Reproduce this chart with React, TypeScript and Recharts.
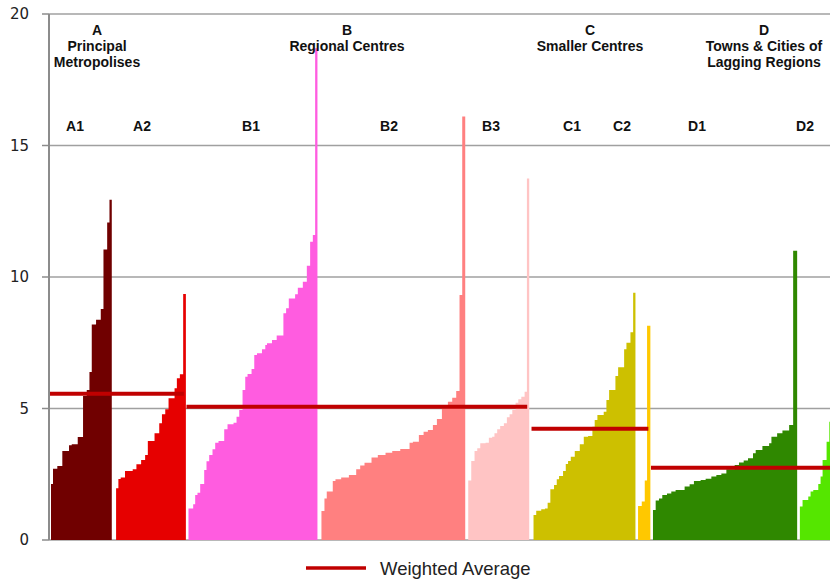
import {
  ComposedChart,
  Area,
  Line,
  XAxis,
  YAxis,
  CartesianGrid,
} from "recharts";

// bar heights (sorted within each sub-group) and bar widths (share of the x axis)
const a1Values = [2.13, 2.71, 2.81, 3.38, 3.6, 3.64, 3.92, 5.48, 5.7, 6.39, 8.19, 8.37, 8.78, 11.05, 12.07, 12.94];
const a1Widths = [2, 4.3, 5, 6.7, 2.7, 6, 5.3, 3.7, 2.7, 2.3, 4.3, 4.7, 2.7, 3.7, 2.3, 2.3];

const a2Values = [1.97, 2.32, 2.38, 2.62, 2.69, 2.88, 3.04, 3.23, 3.76, 4.06, 4.44, 4.78, 4.97, 5.39, 5.77, 6.15, 6.3, 9.35];
const a2Widths = [2.3, 2.3, 4.3, 7.7, 3.7, 4.7, 4, 2.7, 6.7, 4.7, 2.7, 3.3, 3.3, 6, 2.3, 3, 3.3, 2.7];

const b1Values = [1.2, 1.36, 1.71, 1.8, 2.13, 2.66, 2.99, 3.23, 3.45, 3.7, 3.76, 4.21, 4.4, 4.46, 4.69, 4.94, 5.7, 6.21, 6.31, 6.5, 7.03, 7.1, 7.25, 7.41, 7.48, 7.6, 7.78, 8.62, 8.81, 9.18, 9.34, 9.59, 9.82, 10.43, 11.34, 11.6, 18.7];
const b1Widths = [4.7, 2, 2.3, 2.7, 4, 2.3, 2.7, 3.3, 2.7, 3.3, 5.7, 3.3, 6, 3, 2.7, 3.3, 2.7, 2.3, 4, 2.7, 2.7, 5, 3.3, 1.7, 5, 4.7, 6.7, 2.7, 2.7, 6.3, 2.7, 5, 4, 3.3, 2.7, 2.3, 2.3];

const b2Values = [1.1, 1.58, 1.84, 2.24, 2.31, 2.38, 2.47, 2.69, 2.83, 2.94, 3.14, 3.23, 3.32, 3.38, 3.46, 3.7, 3.74, 3.99, 4.12, 4.18, 4.37, 4.6, 5.01, 5.26, 5.41, 5.67, 9.32, 16.1];
const b2Widths = [3, 2.3, 6, 2.7, 5.7, 7.7, 7.3, 4, 4.3, 7, 6.3, 7.7, 6.7, 8, 9.3, 3.3, 6, 4.7, 4.3, 5, 4, 5, 6, 4.3, 4, 3.3, 2.7, 3];

const b3Values = [2.26, 3, 3.38, 3.49, 3.68, 3.7, 3.89, 3.93, 4.06, 4.21, 4.33, 4.44, 4.67, 4.78, 4.94, 5.22, 5.35, 5.45, 5.64, 13.75];
const b3Widths = [3, 3.3, 2.7, 3, 5.3, 3.3, 3.3, 2.3, 2.7, 3, 3.7, 3, 2.7, 2.7, 3.3, 2.7, 3, 3.3, 2.3, 2.3];

const c1Values = [0.95, 1.11, 1.17, 1.2, 1.42, 1.93, 2.09, 2.31, 2.43, 2.62, 2.89, 3, 3.17, 3.38, 3.64, 3.93, 3.95, 4.31, 4.56, 4.75, 4.88, 5.32, 5.7, 6.24, 6.57, 7.25, 7.5, 7.9, 9.4];
const c1Widths = [2.7, 5, 3.7, 2.7, 2.7, 3.7, 2.7, 2.3, 4, 2.7, 2.3, 2.7, 4, 5, 4, 4.3, 4.3, 2.3, 2.7, 6.3, 2.7, 2.7, 6.3, 2.7, 6, 2.3, 4, 2.7, 2.3];

const c2Values = [1.29, 1.46, 2.26, 8.15];
const c2Widths = [3.7, 3, 2.3, 3.3];

const d1Values = [1.14, 1.5, 1.58, 1.71, 1.77, 1.84, 1.9, 2.03, 2.12, 2.24, 2.28, 2.33, 2.41, 2.47, 2.53, 2.69, 2.85, 2.95, 3.02, 3.11, 3.3, 3.42, 3.57, 3.68, 3.93, 4.06, 4.16, 4.37, 11];
const d1Widths = [2.7, 3.3, 3.3, 4.7, 4.3, 4.3, 9, 5, 4.3, 6.7, 5, 5.7, 5, 5, 5, 8.3, 4.3, 4.7, 4.3, 5, 2.7, 6.7, 6.7, 2.3, 5.7, 5.3, 6.7, 4, 4];

const d2Values = [1.27, 1.52, 1.65, 1.84, 1.9, 2.13, 2.41, 3.04, 3.74, 4.5];
const d2Widths = [2.7, 5.7, 2.3, 2.7, 5, 2.3, 2, 4, 2.7, 3];

// weighted average per main group
const categories = ["A", "B", "C", "D"];
const weightedAverages = [5.56, 5.07, 4.23, 2.75];
const yTicks = [0, 5, 10, 15, 20];

const X_MAX = 780;
// spacing before each sub-group
const GAPS = [2, 4.3, 2.6, 4, 3, 4.3, 2.6, 2.6, 2.7];

const groups = [
  { key: "A1", cat: "A", values: a1Values, widths: a1Widths, color: "#700000" },
  { key: "A2", cat: "A", values: a2Values, widths: a2Widths, color: "#e60000" },
  { key: "B1", cat: "B", values: b1Values, widths: b1Widths, color: "#ff5ce0" },
  { key: "B2", cat: "B", values: b2Values, widths: b2Widths, color: "#ff8080" },
  { key: "B3", cat: "B", values: b3Values, widths: b3Widths, color: "#ffc4c4" },
  { key: "C1", cat: "C", values: c1Values, widths: c1Widths, color: "#cdc000" },
  { key: "C2", cat: "C", values: c2Values, widths: c2Widths, color: "#ffc800" },
  { key: "D1", cat: "D", values: d1Values, widths: d1Widths, color: "#2f8800" },
  { key: "D2", cat: "D", values: d2Values, widths: d2Widths, color: "#55e600" },
];

let cursor = 0;
const series = groups.map((g, i) => {
  cursor += GAPS[i];
  const start = cursor;
  const data: { x: number; v: number }[] = [];
  g.values.forEach((v, j) => {
    data.push({ x: cursor, v });
    cursor += g.widths[j];
  });
  data.push({ x: cursor, v: g.values[g.values.length - 1] });
  return { ...g, data, start, end: cursor };
});

const avgLines = categories.map((c, i) => {
  const members = series.filter((s) => s.cat === c);
  const x0 = Math.max(0, members[0].start - 2);
  const x1 = Math.min(X_MAX, members[members.length - 1].end - 2);
  return {
    key: c,
    data: [
      { x: x0, v: weightedAverages[i] },
      { x: x1, v: weightedAverages[i] },
    ],
  };
});

const headLabels = [
  { x: 97, lines: ["A", "Principal", "Metropolises"] },
  { x: 347, lines: ["B", "Regional Centres"] },
  { x: 590, lines: ["C", "Smaller Centres"] },
  { x: 764, lines: ["D", "Towns & Cities of", "Lagging Regions"] },
];

const subLabelX = [75, 142, 251, 389, 491, 572, 622, 697, 805];

const labelFont = "'Liberation Sans', Arial, sans-serif";

export default function App() {
  return (
    <div style={{ position: "absolute", left: 0, top: 0, width: 830, height: 580, background: "#fff" }}>
      <ComposedChart
        width={830}
        height={580}
        margin={{ top: 14, right: 0, bottom: 40, left: 0 }}
      >
        <CartesianGrid vertical={false} stroke="#a0a0a0" strokeWidth={1.5} />
        <XAxis
          type="number"
          dataKey="x"
          domain={[0, X_MAX]}
          allowDataOverflow
          tick={false}
          tickLine={false}
          height={0}
          axisLine={{ stroke: "#8c8c8c", strokeWidth: 2 }}
        />
        <YAxis
          domain={[0, 20]}
          ticks={yTicks}
          width={49}
          tickSize={7}
          tickMargin={13}
          axisLine={{ stroke: "#8c8c8c", strokeWidth: 2 }}
          tickLine={{ stroke: "#8c8c8c", strokeWidth: 1.5 }}
          tick={{ fill: "#222", fontSize: 15, fontFamily: "'DejaVu Sans', sans-serif" }}
        />
        {series.map((s) => (
          <Area
            key={s.key}
            data={s.data}
            dataKey="v"
            type="stepAfter"
            stroke="none"
            fill={s.color}
            fillOpacity={1}
            dot={false}
            activeDot={false}
            isAnimationActive={false}
          />
        ))}
        {avgLines.map((l) => (
          <Line
            key={l.key}
            data={l.data}
            dataKey="v"
            stroke="#c00000"
            strokeWidth={4}
            dot={false}
            activeDot={false}
            isAnimationActive={false}
          />
        ))}
      </ComposedChart>

      <svg
        width={830}
        height={580}
        style={{ position: "absolute", left: 0, top: 0, pointerEvents: "none" }}
      >
        {headLabels.map((h) =>
          h.lines.map((t, i) => (
            <text
              key={h.x + t}
              x={h.x}
              y={29.5 + i * 16}
              textAnchor="middle"
              dominantBaseline="central"
              fontFamily={labelFont}
              fontWeight="bold"
              fontSize={14}
              fill="#111"
            >
              {t}
            </text>
          ))
        )}
        {groups.map((g, i) => (
          <text
            key={g.key}
            x={subLabelX[i]}
            y={125.5}
            textAnchor="middle"
            dominantBaseline="central"
            fontFamily={labelFont}
            fontWeight="bold"
            fontSize={14}
            fill="#111"
          >
            {g.key}
          </text>
        ))}
        <line x1={306} x2={366} y1={568} y2={568} stroke="#c00000" strokeWidth={3.5} />
        <text
          x={380}
          y={568}
          dominantBaseline="central"
          fontFamily={labelFont}
          fontSize={18.5}
          fill="#222"
        >
          Weighted Average
        </text>
      </svg>
    </div>
  );
}
